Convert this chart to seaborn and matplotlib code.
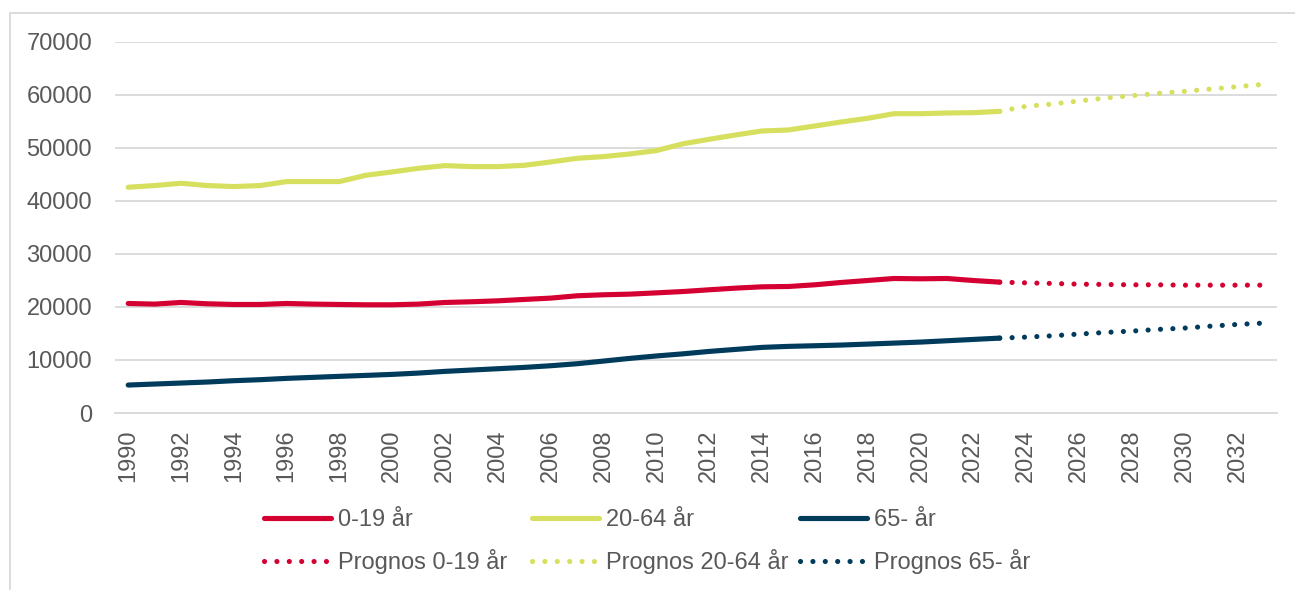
import matplotlib
matplotlib.use("Agg")
import matplotlib.pyplot as plt
import seaborn as sns
import numpy as np
import pandas as pd
from matplotlib.patches import Rectangle

years_hist = list(range(1990, 2024))
years_prog = list(range(2023, 2034))

young = [20650, 20530, 20840, 20590, 20460, 20460, 20650, 20530, 20460, 20400,
         20400, 20530, 20840, 20970, 21150, 21410, 21660, 22100, 22290, 22410,
         22650, 22900, 23230, 23540, 23790, 23850, 24170, 24610, 24980, 25360,
         25300, 25360, 24980, 24670]
adult = [42560, 42880, 43310, 42880, 42690, 42880, 43630, 43630, 43630, 44820,
         45450, 46140, 46640, 46450, 46450, 46700, 47330, 48020, 48340, 48840,
         49470, 50750, 51600, 52420, 53170, 53360, 54110, 54870, 55560, 56430,
         56430, 56560, 56620, 56870]
old = [5270, 5460, 5650, 5840, 6090, 6280, 6530, 6720, 6910, 7090,
       7280, 7530, 7850, 8100, 8350, 8600, 8910, 9290, 9790, 10300,
       10750, 11150, 11610, 11990, 12370, 12560, 12680, 12810, 12990, 13180,
       13370, 13620, 13870, 14120]

young_prog = [24670, 24540, 24420, 24290, 24230, 24170, 24170, 24100, 24100, 24100, 24100]
adult_prog = [56870, 57820, 58250, 58820, 59380, 59820, 60260, 60640, 61080, 61520, 61960]
old_prog = [14120, 14310, 14560, 14880, 15190, 15440, 15760, 16010, 16380, 16700, 16950]

labels = ["0-19 år", "20-64 år", "65- år"]
prog_labels = ["Prognos 0-19 år", "Prognos 20-64 år", "Prognos 65- år"]
colors = ["#D50032", "#D7DF5E", "#003B5C"]

sns.set_theme(style="white")
plt.rcParams["font.family"] = ["Liberation Sans", "DejaVu Sans"]
TXT = "#595959"
FS = 17

fig = plt.figure(figsize=(12.95, 5.90), dpi=100)
ax = fig.add_axes([115/1295, 1-413/590, (1277-115)/1295, (413-41.7)/590])

hist = [young, adult, old]
prog = [young_prog, adult_prog, old_prog]
handles_solid = []
handles_dot = []
for i in range(3):
    df_h = pd.DataFrame({"year": years_hist, "value": hist[i]})
    sns.lineplot(data=df_h, x="year", y="value", ax=ax, color=colors[i],
                 linewidth=3.7, solid_capstyle="round", label=labels[i])
    handles_solid.append(ax.lines[-1])
for i in range(3):
    df_p = pd.DataFrame({"year": years_prog, "value": prog[i]})
    sns.lineplot(data=df_p, x="year", y="value", ax=ax, color=colors[i],
                 linewidth=3.7, linestyle=(0, (0.01, 2.4)),
                 dash_capstyle="round", label=prog_labels[i])
    handles_dot.append(ax.lines[-1])

ax.set_xlim(1989.5, 2033.5)
ax.set_ylim(0, 70000)
ax.set_yticks(np.arange(0, 70001, 10000))
ax.set_yticklabels([str(v) for v in range(0, 70001, 10000)])
ax.set_xticks(list(range(1990, 2034, 2)))
ax.set_xticklabels([str(y) for y in range(1990, 2034, 2)], rotation=90)
ax.set_xlabel("")
ax.set_ylabel("")
ax.grid(axis="y", color="#D9D9D9", linewidth=1.3)
ax.grid(axis="x", visible=False)
for s in ["top", "right", "left"]:
    ax.spines[s].set_visible(False)
ax.spines["bottom"].set_color("#D9D9D9")
ax.spines["bottom"].set_linewidth(1.3)
ax.set_axisbelow(True)
ax.tick_params(axis="y", length=0, pad=16.5, labelsize=FS, labelcolor=TXT)
ax.tick_params(axis="x", length=0, pad=12, labelsize=FS, labelcolor=TXT)
ax.legend_.remove()

col_x = [264, 532, 800]
for i in range(3):
    leg = fig.legend([handles_solid[i], handles_dot[i]], [labels[i], prog_labels[i]],
                     ncol=1, loc="center left",
                     bbox_to_anchor=(col_x[i]/1295, 1-541.5/590), frameon=False,
                     fontsize=FS, handlelength=2.85, handletextpad=0.3,
                     labelspacing=0.76, borderpad=0, borderaxespad=0)
    for t in leg.get_texts():
        t.set_color(TXT)

fig.patches.append(Rectangle((10/1295, -0.1), 1.2, 1-13/590+0.1,
                             transform=fig.transFigure, fill=False,
                             edgecolor="#D9D9D9", linewidth=1.3))

fig.savefig("out.png", dpi=100, facecolor="white")
